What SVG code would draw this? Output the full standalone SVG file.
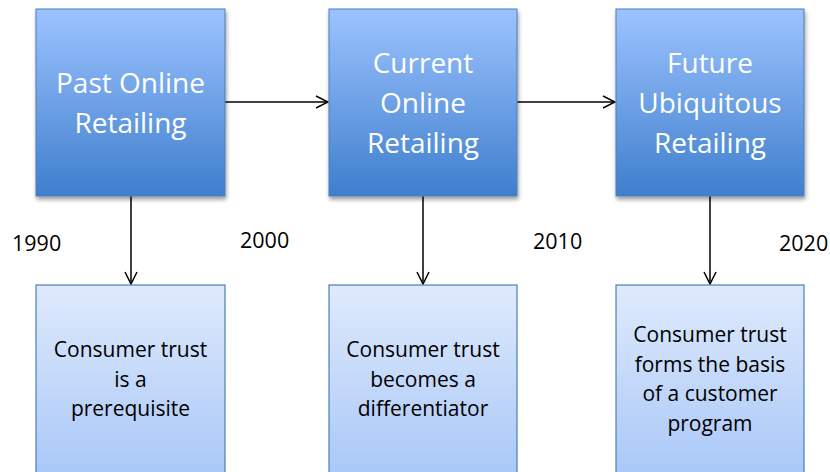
<svg xmlns="http://www.w3.org/2000/svg" width="830" height="472" viewBox="0 0 830 472">
<defs>
<linearGradient id="gTop" x1="0" y1="0" x2="0" y2="1">
<stop offset="0" stop-color="#9dc3ff"/>
<stop offset="1" stop-color="#3e7fcd"/>
</linearGradient>
<linearGradient id="gBot" x1="0" y1="0" x2="0" y2="1">
<stop offset="0" stop-color="#dfeafc"/>
<stop offset="1" stop-color="#a6c6f8"/>
</linearGradient>
<filter id="sh" x="-10%" y="-10%" width="130%" height="130%">
<feGaussianBlur in="SourceAlpha" stdDeviation="2"/>
<feOffset dx="1" dy="3" result="b"/>
<feComponentTransfer><feFuncA type="linear" slope="0.4"/></feComponentTransfer>
<feMerge><feMergeNode/><feMergeNode in="SourceGraphic"/></feMerge>
</filter>
<marker id="arr" viewBox="0 0 14 14" refX="13" refY="7" markerWidth="14" markerHeight="14" markerUnits="userSpaceOnUse" orient="auto">
<path d="M1,1 L13,7 L1,13" fill="none" stroke="#000" stroke-width="1.5"/>
</marker>
<style>
.top{fill:url(#gTop);stroke:#4a7ebb;stroke-width:1;filter:url(#sh)}
.bot{fill:url(#gBot);stroke:#4a7ebb;stroke-width:1.2}
.tt{font-family:"Open Sans","Liberation Sans",sans-serif;font-size:28px;fill:#fff;text-anchor:middle}
.bt{font-family:"Open Sans","Liberation Sans",sans-serif;font-size:21px;fill:#000;text-anchor:middle}
.yr{font-family:"Open Sans","Liberation Sans",sans-serif;font-size:21.5px;fill:#000}
.cn{stroke:#000;stroke-width:1.5;fill:none;marker-end:url(#arr)}
</style>
</defs>
<rect width="830" height="472" fill="#fff"/>
<g id="connectors">
<line class="cn" x1="225" y1="102" x2="328" y2="102"/>
<line class="cn" x1="517" y1="102" x2="615" y2="102"/>
<line class="cn" x1="131" y1="196" x2="131" y2="284"/>
<line class="cn" x1="423" y1="196" x2="423" y2="284"/>
<line class="cn" x1="710" y1="196" x2="710" y2="284"/>
</g>
<g id="node-past">
<rect class="top" x="36" y="9" width="189" height="187"/>
<text class="tt" x="130.5" y="93">Past Online</text>
<text class="tt" x="130.5" y="133">Retailing</text>
</g>
<g id="node-current">
<rect class="top" x="329" y="9" width="188" height="187"/>
<text class="tt" x="423" y="73">Current</text>
<text class="tt" x="423" y="113">Online</text>
<text class="tt" x="423" y="153">Retailing</text>
</g>
<g id="node-future">
<rect class="top" x="616" y="9" width="188" height="187"/>
<text class="tt" x="710" y="73">Future</text>
<text class="tt" x="710" y="113">Ubiquitous</text>
<text class="tt" x="710" y="153">Retailing</text>
</g>
<g id="node-prereq">
<rect class="bot" x="36" y="285" width="189" height="200"/>
<text class="bt" x="130.5" y="357">Consumer trust</text>
<text class="bt" x="130.5" y="387">is a</text>
<text class="bt" x="130.5" y="416">prerequisite</text>
</g>
<g id="node-diff">
<rect class="bot" x="329" y="285" width="188" height="200"/>
<text class="bt" x="423" y="357">Consumer trust</text>
<text class="bt" x="423" y="387">becomes a</text>
<text class="bt" x="423" y="416">differentiator</text>
</g>
<g id="node-program">
<rect class="bot" x="616" y="285" width="188" height="200"/>
<text class="bt" x="710" y="342">Consumer trust</text>
<text class="bt" x="710" y="372">forms the basis</text>
<text class="bt" x="710" y="401">of a customer</text>
<text class="bt" x="710" y="431">program</text>
</g>
<g id="years">
<text class="yr" x="12" y="251">1990</text>
<text class="yr" x="240" y="248">2000</text>
<text class="yr" x="533" y="249">2010</text>
<text class="yr" x="779" y="251">2020</text>
</g>
</svg>
